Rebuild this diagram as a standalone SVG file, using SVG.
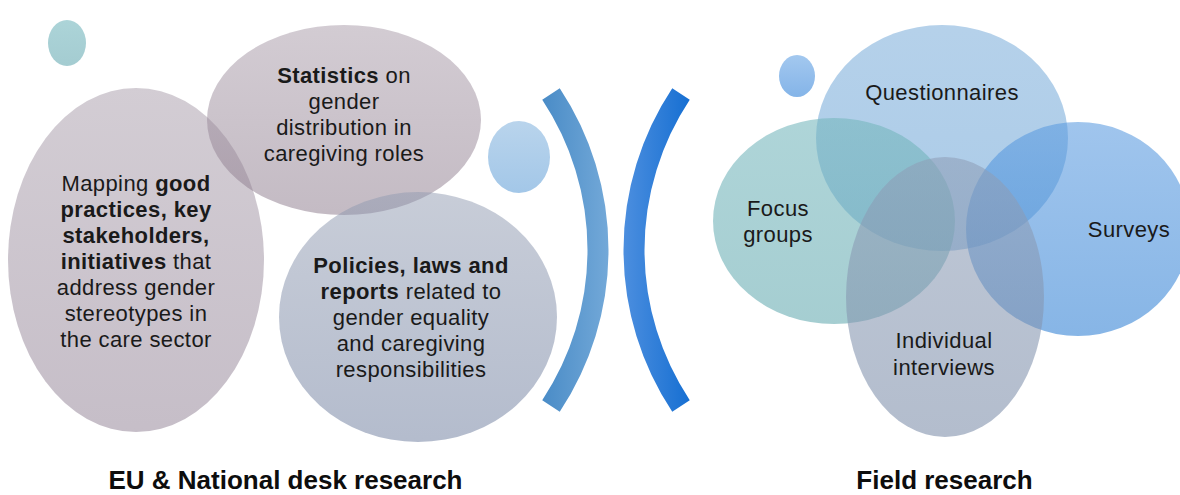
<svg xmlns="http://www.w3.org/2000/svg" width="1180" height="495" viewBox="0 0 1180 495">
<defs>
<linearGradient id="gMap" x1="0" y1="0" x2="0" y2="1"><stop offset="0" stop-color="#a79ba9"/><stop offset="1" stop-color="#8d7d91"/></linearGradient>
<linearGradient id="gStat" x1="0" y1="0" x2="0" y2="1"><stop offset="0" stop-color="#a799a7"/><stop offset="1" stop-color="#897789"/></linearGradient>
<linearGradient id="gPol" x1="0" y1="0" x2="0" y2="1"><stop offset="0" stop-color="#919bb1"/><stop offset="1" stop-color="#69799b"/></linearGradient>
<linearGradient id="gTealDot" x1="0" y1="0" x2="0" y2="1"><stop offset="0" stop-color="#acd4d8"/><stop offset="1" stop-color="#a4ccd1"/></linearGradient>
<linearGradient id="gLightBlue" x1="0" y1="0" x2="0" y2="1"><stop offset="0" stop-color="#b9d4ec"/><stop offset="1" stop-color="#a3c7e8"/></linearGradient>
<linearGradient id="gF" x1="0" y1="0" x2="0" y2="1"><stop offset="0" stop-color="#74b6bc"/><stop offset="1" stop-color="#64aab0"/></linearGradient>
<linearGradient id="gQ" x1="0" y1="0" x2="0" y2="1"><stop offset="0" stop-color="#80b0db"/><stop offset="1" stop-color="#6da5d7"/></linearGradient>
<linearGradient id="gSurv" x1="0" y1="0" x2="0" y2="1"><stop offset="0" stop-color="#5b9be0"/><stop offset="1" stop-color="#3080d4"/></linearGradient>
<linearGradient id="gInt" x1="0" y1="0" x2="0" y2="1"><stop offset="0" stop-color="#8f9fb8"/><stop offset="1" stop-color="#7c8da9"/></linearGradient>
<linearGradient id="gDot" x1="0" y1="0" x2="0" y2="1"><stop offset="0" stop-color="#a3c8ef"/><stop offset="1" stop-color="#84b4e8"/></linearGradient>
<linearGradient id="gBr1" gradientUnits="userSpaceOnUse" x1="543" y1="0" x2="612" y2="0"><stop offset="0" stop-color="#4a8cc7"/><stop offset="1" stop-color="#75aad9"/></linearGradient>
<linearGradient id="gBr2" gradientUnits="userSpaceOnUse" x1="622" y1="0" x2="690" y2="0"><stop offset="0" stop-color="#4d8fdf"/><stop offset="1" stop-color="#166fd2"/></linearGradient>
</defs>
<style>
.b{fill:#1a1a1a;font-family:"Liberation Sans",Arial,sans-serif;font-size:22px;letter-spacing:0.4px;text-anchor:middle}
.bold{font-weight:700}
.h{fill:#0d0d0d;font-family:"Liberation Sans",Arial,sans-serif;font-size:26px;font-weight:700;text-anchor:middle}
.l{fill-opacity:0.5}
.r{fill-opacity:0.58}
.br{fill:none;stroke-width:21;stroke-linecap:butt}
</style>
<rect width="1180" height="495" fill="#ffffff"/>
<g id="dot-teal"><ellipse cx="67" cy="43" rx="19" ry="23" fill="url(#gTealDot)"/></g>
<g id="mapping"><ellipse class="l" cx="136" cy="260" rx="128" ry="172" fill="url(#gMap)"/></g>
<g id="statistics"><ellipse class="l" cx="344" cy="120" rx="137" ry="95" fill="url(#gStat)"/></g>
<g id="dot-blue"><ellipse cx="519" cy="157" rx="31" ry="36" fill="url(#gLightBlue)"/></g>
<g id="policies"><ellipse class="l" cx="418" cy="317" rx="139" ry="125" fill="url(#gPol)"/></g>
<g id="text-left">
<text class="b" x="136" y="191">Mapping <tspan class="bold">good</tspan></text>
<text class="b bold" x="136" y="217">practices, key</text>
<text class="b bold" x="136" y="243">stakeholders,</text>
<text class="b" x="136" y="269"><tspan class="bold">initiatives</tspan> that</text>
<text class="b" x="136" y="295">address gender</text>
<text class="b" x="136" y="321">stereotypes in</text>
<text class="b" x="136" y="347">the care sector</text>
<text class="b" x="344" y="83"><tspan class="bold">Statistics</tspan> on</text>
<text class="b" x="344" y="109">gender</text>
<text class="b" x="344" y="135">distribution in</text>
<text class="b" x="344" y="161">caregiving roles</text>
<text class="b bold" x="411" y="273">Policies, laws and</text>
<text class="b" x="411" y="299"><tspan class="bold">reports</tspan> related to</text>
<text class="b" x="411" y="325">gender equality</text>
<text class="b" x="411" y="351">and caregiving</text>
<text class="b" x="411" y="377">responsibilities</text>
</g>
<g id="brackets">
<path class="br" d="M551 94 A282.4 282.4 0 0 1 551 406" stroke="url(#gBr1)"/>
<path class="br" d="M681 94 A282.4 282.4 0 0 0 681 406" stroke="url(#gBr2)"/>
</g>
<g id="dot-right"><ellipse cx="797" cy="76" rx="18" ry="21" fill="url(#gDot)"/></g>
<g id="questionnaires"><ellipse class="r" cx="942" cy="138" rx="126" ry="113" fill="url(#gQ)"/></g>
<g id="focus"><ellipse class="r" cx="834" cy="221" rx="121" ry="103" fill="url(#gF)"/></g>
<g id="surveys"><ellipse class="r" cx="1078" cy="229" rx="112" ry="107" fill="url(#gSurv)"/></g>
<g id="interviews"><ellipse class="r" cx="945" cy="297" rx="99" ry="140" fill="url(#gInt)"/></g>
<g id="text-right">
<text class="b" x="942" y="100">Questionnaires</text>
<text class="b" x="778" y="216">Focus</text>
<text class="b" x="778" y="242">groups</text>
<text class="b" x="1129" y="237">Surveys</text>
<text class="b" x="944" y="348">Individual</text>
<text class="b" x="944" y="375">interviews</text>
</g>
<g id="labels">
<text class="h" x="285.5" y="489">EU &amp; National desk research</text>
<text class="h" x="944.5" y="489">Field research</text>
</g>
</svg>
